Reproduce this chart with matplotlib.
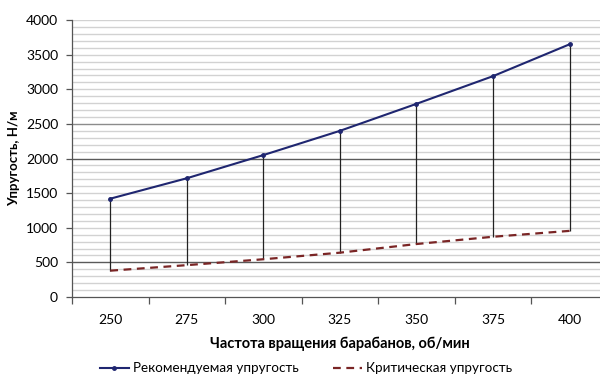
import numpy as np
import matplotlib
matplotlib.use("Agg")
from matplotlib import pyplot as plt

# drum speed, rpm
speeds = [250, 275, 300, 325, 350, 375, 400]
# recommended and critical elasticity, N/m
recommended = [1420, 1715, 2050, 2400, 2790, 3190, 3650]
critical = [380, 460, 545, 640, 765, 870, 955]

labels = ["Рекомендуемая упругость", "Критическая упругость"]

plt.rcParams['font.family'] = ['Lato', 'DejaVu Sans']

fig = plt.figure(figsize=(6, 3.79), dpi=100)
ax = fig.add_axes([0.12, 0.2164, 0.893, 0.7306])

x = np.arange(len(speeds))

# light grid every 100, a few heavier lines
dark = {500: '#5a5a5a', 2000: '#5a5a5a', 2500: '#8c8c8c'}
for v in range(100, 4001, 100):
    ax.axhline(v, color=dark.get(v, '#d2d2d2'), lw=1.0, zorder=0)

# high-low lines between the two series
ax.vlines(x, critical, recommended, color='#222222', lw=0.9, zorder=2)

ax.plot(x, recommended, color='#1f2670', lw=1.5, marker='o', ms=2.5,
        label=labels[0], zorder=3)
ax.plot(x, critical, color='#7a2525', lw=1.6, ls=(0, (3.5, 2.5)),
        label=labels[1], zorder=3)

ax.set_xlim(-0.5, len(speeds) - 0.5)
ax.set_ylim(0, 4000)
ax.set_xticks(x)
ax.set_xticklabels([str(s) for s in speeds])
ax.set_xticks(np.arange(-0.5, len(speeds), 1), minor=True)
ax.tick_params(axis='x', which='major', length=0, pad=12, labelsize=10)
ax.tick_params(axis='x', which='minor', length=5, width=0.9, color='#555555')
ax.set_yticks(range(0, 4001, 500))
ax.tick_params(axis='y', length=4, width=0.9, color='#555555', labelsize=10,
               pad=6)

for s in ['top', 'right']:
    ax.spines[s].set_visible(False)
for s in ['left', 'bottom']:
    ax.spines[s].set_color('#555555')
    ax.spines[s].set_linewidth(0.9)

ax.set_xlabel("Частота вращения барабанов, об/мин", fontsize=10.5,
              fontweight='bold', labelpad=8)
ax.set_ylabel("Упругость, Н/м", fontsize=9.5, fontweight='bold', labelpad=4)

fig.legend(loc='center', bbox_to_anchor=(0.51, 0.028), ncol=2, frameon=False,
           fontsize=9.7, handlelength=2.2, columnspacing=2.5, handletextpad=0.3)

plt.savefig("out.png", dpi=100)
